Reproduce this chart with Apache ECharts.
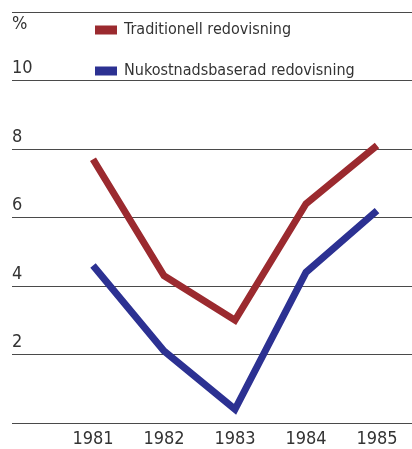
<!DOCTYPE html>
<html>
<head>
<meta charset="utf-8">
<style>
  html, body { margin: 0; padding: 0; background: #ffffff; }
  #chart { width: 412px; height: 449px; }
</style>
<script src="https://cdn.jsdelivr.net/npm/echarts@6/dist/echarts.min.js"></script>
</head>
<body>
<div id="chart"></div>
<script>
// Years on the horizontal axis
const years = ['1981', '1982', '1983', '1984', '1985'];
// Margin in percent, two accounting methods
const traditionell = [7.7, 4.3, 3.0, 6.4, 8.1];
const nukostnad = [4.6, 2.1, 0.4, 4.4, 6.2];
// Value scale
const yMin = 0;
const yMax = 12;
const yStep = 2;

const FONT = '"Liberation Sans Narrow", "DejaVu Sans Condensed", "Liberation Sans", sans-serif';
const RED = '#9b2a2f';
const BLUE = '#2c3192';
const TEXT = '#333333';

const chart = echarts.init(document.getElementById('chart'), null, { renderer: 'canvas' });

chart.setOption({
  backgroundColor: '#ffffff',
  animation: false,
  textStyle: { fontFamily: FONT },
  legend: {
    orient: 'vertical',
    left: 90,
    top: 17,
    itemWidth: 22,
    itemHeight: 9,
    itemGap: 25,
    textStyle: { fontFamily: FONT, fontSize: 16, color: TEXT, padding: [0, 0, 0, 2] },
    data: [
      { name: 'Traditionell redovisning', icon: 'rect' },
      { name: 'Nukostnadsbaserad redovisning', icon: 'rect' }
    ]
  },
  grid: [
    // full-width grid carrying the horizontal rules and the value labels
    { left: 12, right: 0, top: 12, bottom: 26 },
    // inner grid carrying the years and the two lines
    { left: 93, right: 35, top: 12, bottom: 26 }
  ],
  xAxis: [
    { gridIndex: 0, type: 'value', show: false, min: 0, max: 1 },
    {
      gridIndex: 1,
      type: 'category',
      data: years,
      boundaryGap: false,
      axisLine: { show: false },
      axisTick: { show: false },
      axisLabel: { margin: 7, fontSize: 18, color: TEXT, fontFamily: FONT }
    }
  ],
  yAxis: [
    {
      gridIndex: 0,
      type: 'value',
      min: yMin,
      max: yMax,
      interval: yStep,
      name: '%',
      nameLocation: 'end',
      nameGap: -3,
      nameTextStyle: { fontFamily: FONT, fontSize: 18, color: TEXT, align: 'left', verticalAlign: 'top' },
      axisLine: { show: false },
      axisTick: { show: false },
      axisLabel: {
        inside: true,
        margin: 0,
        align: 'left',
        verticalAlign: 'bottom',
        padding: [0, 0, 3, 0],
        fontSize: 18,
        color: TEXT,
        fontFamily: FONT,
        formatter: function (v) { return (v === yMin || v === yMax) ? '' : String(v); }
      },
      splitLine: { show: true, lineStyle: { color: '#4a4a4a', width: 1 } }
    },
    { gridIndex: 1, type: 'value', min: yMin, max: yMax, interval: yStep, show: false, splitLine: { show: false } }
  ],
  series: [
    {
      name: 'Traditionell redovisning',
      type: 'line',
      xAxisIndex: 1,
      yAxisIndex: 1,
      data: traditionell,
      symbol: 'none',
      color: RED,
      lineStyle: { width: 7, color: RED, join: 'miter', cap: 'butt' }
    },
    {
      name: 'Nukostnadsbaserad redovisning',
      type: 'line',
      xAxisIndex: 1,
      yAxisIndex: 1,
      data: nukostnad,
      symbol: 'none',
      color: BLUE,
      lineStyle: { width: 7, color: BLUE, join: 'miter', cap: 'butt' }
    }
  ]
});
</script>
</body>
</html>
